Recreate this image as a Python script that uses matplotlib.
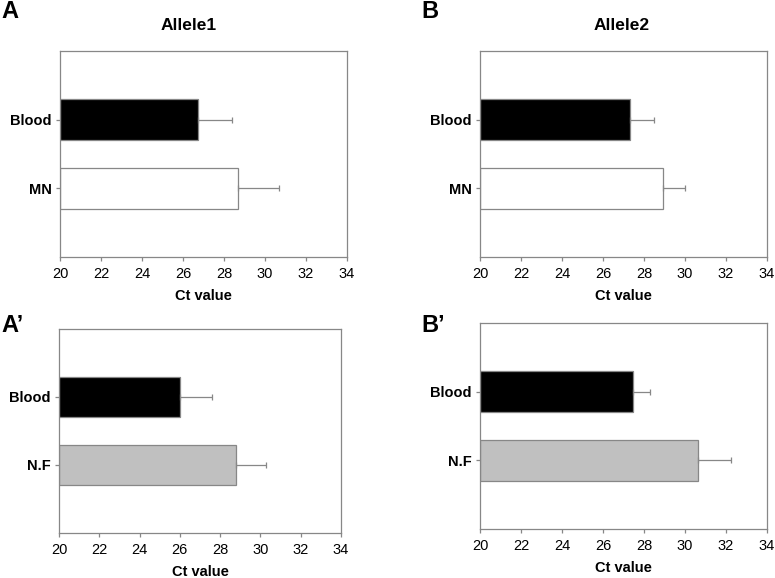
import matplotlib
matplotlib.use("Agg")
import matplotlib.pyplot as plt

plt.rcParams['font.family'] = ['Liberation Sans', 'DejaVu Sans']

# Data
cats_top = ["Blood", "MN"]
cats_bot = ["Blood", "N.F"]
allele1_vals = [26.75, 28.7]
allele1_err = [1.65, 2.0]
allele2_vals = [27.33, 28.95]
allele2_err = [1.15, 1.05]
allele1b_vals = [26.0, 28.8]
allele1b_err = [1.6, 1.5]
allele2b_vals = [27.45, 30.62]
allele2b_err = [0.85, 1.6]
xticks = [20, 22, 24, 26, 28, 30, 32, 34]

GRAY = "#878787"

fig = plt.figure(figsize=(7.75, 5.78), dpi=100)

def panel(rect, cats, vals, errs, colors):
    ax = fig.add_axes(rect)
    pos = list(range(len(cats)))
    ax.barh(pos, [v - 20 for v in vals], left=20, height=0.6, color=colors,
            edgecolor=GRAY, linewidth=0.9, zorder=2)
    ax.errorbar(vals, pos, xerr=[[0] * len(errs), errs], fmt='none',
                ecolor=GRAY, elinewidth=0.9, capsize=2.2, capthick=0.9, zorder=3)
    ax.set_xlim(20, 34)
    ax.set_ylim(2, -1)
    ax.set_xticks(xticks)
    ax.set_xticklabels([str(t) for t in xticks], fontsize=10.5)
    ax.set_yticks(pos)
    ax.set_yticklabels(cats, fontsize=10.5, fontweight='bold')
    for s in ax.spines.values():
        s.set_color(GRAY)
        s.set_linewidth(0.9)
    ax.tick_params(axis='both', length=3, width=0.9, color=GRAY, pad=3)
    ax.tick_params(axis='x', pad=4)
    ax.set_xlabel("Ct value", fontsize=10.5, fontweight='bold', labelpad=6)
    return ax

W, H = 775, 578
def rect(l, t, r, b):
    return [l / W, (H - b) / H, (r - l) / W, (b - t) / H]

top_colors = ["black", "white"]
bot_colors = ["black", "#c0c0c0"]

panel(rect(60, 51, 347, 257), cats_top, allele1_vals, allele1_err, top_colors)
panel(rect(480, 51, 767, 257), cats_top, allele2_vals, allele2_err, top_colors)
panel(rect(59, 329, 341, 533), cats_bot, allele1b_vals, allele1b_err, bot_colors)
panel(rect(480, 323, 767, 529), cats_bot, allele2b_vals, allele2b_err, bot_colors)

fig.text(189 / W, 1 - 26 / H, "Allele1", fontsize=12.5, fontweight='bold', ha='center', va='center')
fig.text(622 / W, 1 - 26 / H, "Allele2", fontsize=12.5, fontweight='bold', ha='center', va='center')

fig.text(1 / W, 1 - 11 / H, "A", fontsize=17, fontweight='bold', ha='left', va='center')
fig.text(421 / W, 1 - 11 / H, "B", fontsize=17, fontweight='bold', ha='left', va='center')
fig.text(1 / W, 1 - 325 / H, "A\u2019", fontsize=17, fontweight='bold', ha='left', va='center')
fig.text(421 / W, 1 - 325 / H, "B\u2019", fontsize=17, fontweight='bold', ha='left', va='center')

fig.savefig("out.png", dpi=100)
